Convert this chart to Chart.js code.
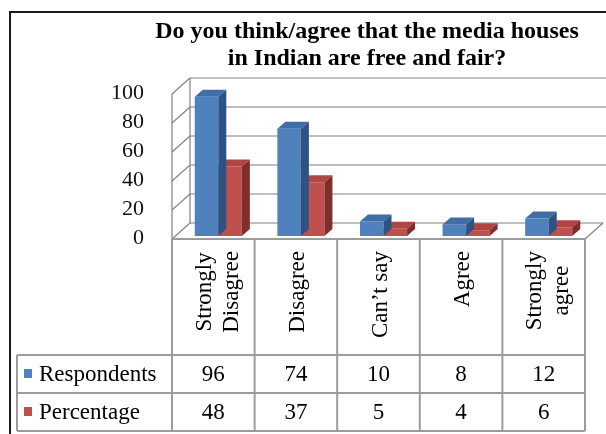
<!DOCTYPE html>
<html lang="en">
<head>
<meta charset="UTF-8">
<title>Media houses in India - free and fair?</title>
<script src="https://cdn.jsdelivr.net/npm/chart.js"></script>
<style>
  html, body { margin: 0; padding: 0; background: #fff; }
</style>
</head>
<body>
<canvas id="grafica" width="606" height="434"></canvas>
<script>
// data
const categories = [['Strongly', 'Disagree'], 'Disagree', 'Can’t say', 'Agree', ['Strongly', 'agree']];
const respondents = [96, 74, 10, 8, 12];
const percentage = [48, 37, 5, 4, 6];
const yTicks = [0, 20, 40, 60, 80, 100];
const seriesNames = ['Respondents', 'Percentage'];
const titleLines = ['Do you think/agree that the media houses', 'in Indian are free and fair?'];

// colours (front, top, side)
const front = ['#4f81bd', '#c0504d'];
const topFace = ['#3f6ea8', '#b04643'];
const sideFace = ['#2e5282', '#7f2e2c'];

// 3d offsets relative to the bar plane
const FRONT = { dx: -5, dy: 3 };
const BACK = { dx: 13, dy: -13 };
const BAR_D = { dx: 8, dy: -7 };
const SERIF = '"Liberation Serif", "Times New Roman", serif';

function line(ctx, x1, y1, x2, y2) {
    ctx.beginPath();
    ctx.moveTo(x1, y1);
    ctx.lineTo(x2, y2);
    ctx.stroke();
}
function poly(ctx, pts) {
    ctx.beginPath();
    ctx.moveTo(pts[0][0], pts[0][1]);
    for (let i = 1; i < pts.length; i++) ctx.lineTo(pts[i][0], pts[i][1]);
    ctx.closePath();
    ctx.fill();
}

const efecto3d = {
    id: 'efecto3d',
    beforeDatasetsDraw(chart) {
        const { ctx, chartArea: a, scales: { x, y } } = chart;
        ctx.save();
        // outer frame
        ctx.strokeStyle = '#1a1a1a';
        ctx.lineWidth = 2;
        ctx.strokeRect(10, 12, chart.width + 20, chart.height + 20);

        // title
        ctx.fillStyle = '#000';
        ctx.font = 'bold 24px ' + SERIF;
        ctx.textAlign = 'center';
        ctx.textBaseline = 'alphabetic';
        ctx.fillText(titleLines[0], 367, 38);
        ctx.fillText(titleLines[1], 367, 65);

        // walls and grid
        ctx.strokeStyle = '#808080';
        ctx.lineWidth = 1.2;
        const fl = a.left + FRONT.dx, fr = a.right + FRONT.dx;
        const bl = a.left + BACK.dx, br = a.right + BACK.dx;
        const y0 = y.getPixelForValue(0), yMax = y.getPixelForValue(yTicks[yTicks.length - 1]);
        yTicks.forEach(v => {
            const py = y.getPixelForValue(v);
            line(ctx, fl, py + FRONT.dy, bl, py + BACK.dy);
            line(ctx, bl, py + BACK.dy, v === 0 ? br : chart.width + 5, py + BACK.dy);
        });
        line(ctx, fl, yMax + FRONT.dy, fl, y0 + FRONT.dy);
        line(ctx, bl, yMax + BACK.dy, bl, y0 + BACK.dy);
        // floor right edge
        line(ctx, fr, y0 + FRONT.dy, br, y0 + BACK.dy);

        // data table grid
        ctx.strokeStyle = '#9c9c9c';
        ctx.lineWidth = 2;
        const n = categories.length;
        const colW = (a.right - a.left) / n;
        const tTop = y0 + FRONT.dy, r1 = 355, r2 = 393, r3 = 431;
        line(ctx, fl, tTop, fr, tTop);
        for (let i = 0; i <= n; i++) {
            const cx = fl + i * colW;
            line(ctx, cx, tTop, cx, r3);
        }
        line(ctx, 17, r1, fr, r1);
        line(ctx, 17, r2, fr, r2);
        line(ctx, 17, r3, fr, r3);
        line(ctx, 17, r1, 17, r3);

        // category labels, rotated, lines centred on each other
        ctx.font = '23px ' + SERIF;
        ctx.fillStyle = '#000';
        ctx.textAlign = 'center';
        ctx.textBaseline = 'middle';
        categories.forEach((c, i) => {
            const lines = Array.isArray(c) ? c : [c];
            const cx = x.getPixelForTick(i) + (lines.length === 1 ? -3 : 0);
            const maxW = Math.max(...lines.map(s => ctx.measureText(s).width));
            const midY = tTop + 12 + maxW / 2;
            lines.forEach((s, j) => {
                const lx = cx + (j - (lines.length - 1) / 2) * 27;
                ctx.save();
                ctx.translate(lx, midY);
                ctx.rotate(-Math.PI / 2);
                ctx.fillText(s, 0, 0);
                ctx.restore();
            });
        });

        // table text
        const rows = [(r1 + r2) / 2, (r2 + r3) / 2];
        chart.data.datasets.forEach((ds, k) => {
            ctx.fillStyle = front[k];
            ctx.fillRect(24, rows[k] - 5, 8, 9);
            ctx.fillStyle = '#000';
            ctx.textAlign = 'left';
            ctx.fillText(seriesNames[k], 39, rows[k] + 1);
            ctx.textAlign = 'center';
            ds.data.forEach((v, i) => {
                ctx.fillText(String(v), fl + (i + 0.5) * colW, rows[k] + 1);
            });
        });
        ctx.restore();
    },
    afterDatasetDraw(chart, args) {
        const ctx = chart.ctx;
        const k = args.index;
        ctx.save();
        args.meta.data.forEach(bar => {
            const { x, y, base, width } = bar.getProps(['x', 'y', 'base', 'width'], true);
            const l = x - width / 2, r = x + width / 2;
            ctx.fillStyle = topFace[k];
            poly(ctx, [[l, y], [r, y], [r + BAR_D.dx, y + BAR_D.dy], [l + BAR_D.dx, y + BAR_D.dy]]);
            ctx.fillStyle = sideFace[k];
            poly(ctx, [[r, y], [r + BAR_D.dx, y + BAR_D.dy], [r + BAR_D.dx, base + BAR_D.dy], [r, base]]);
        });
        ctx.restore();
    }
};

const ctx = document.getElementById('grafica').getContext('2d');
new Chart(ctx, {
    type: 'bar',
    data: {
        labels: categories,
        datasets: [
            { label: seriesNames[0], data: respondents, backgroundColor: front[0] },
            { label: seriesNames[1], data: percentage, backgroundColor: front[1] }
        ]
    },
    options: {
        responsive: false,
        animation: false,
        layout: { padding: { top: 91, right: 16, left: 0, bottom: 0 } },
        datasets: { bar: { categoryPercentage: 0.57, barPercentage: 1, borderWidth: 0 } },
        plugins: {
            legend: { display: false },
            tooltip: { enabled: false },
            title: { display: false }
        },
        scales: {
            x: {
                grid: { display: false },
                border: { display: false },
                afterFit: s => { s.height = 198; },
                ticks: { display: false }
            },
            y: {
                min: 0,
                max: 100,
                grid: { display: false, drawTicks: false },
                border: { display: false },
                afterFit: s => { s.width = 177; },
                afterBuildTicks: s => { s.ticks = yTicks.map(v => ({ value: v })); },
                ticks: {
                    autoSkip: false,
                    padding: 33,
                    labelOffset: 2,
                    color: '#111',
                    font: { family: SERIF, size: 22 }
                }
            }
        }
    },
    plugins: [efecto3d]
});
</script>
</body>
</html>
